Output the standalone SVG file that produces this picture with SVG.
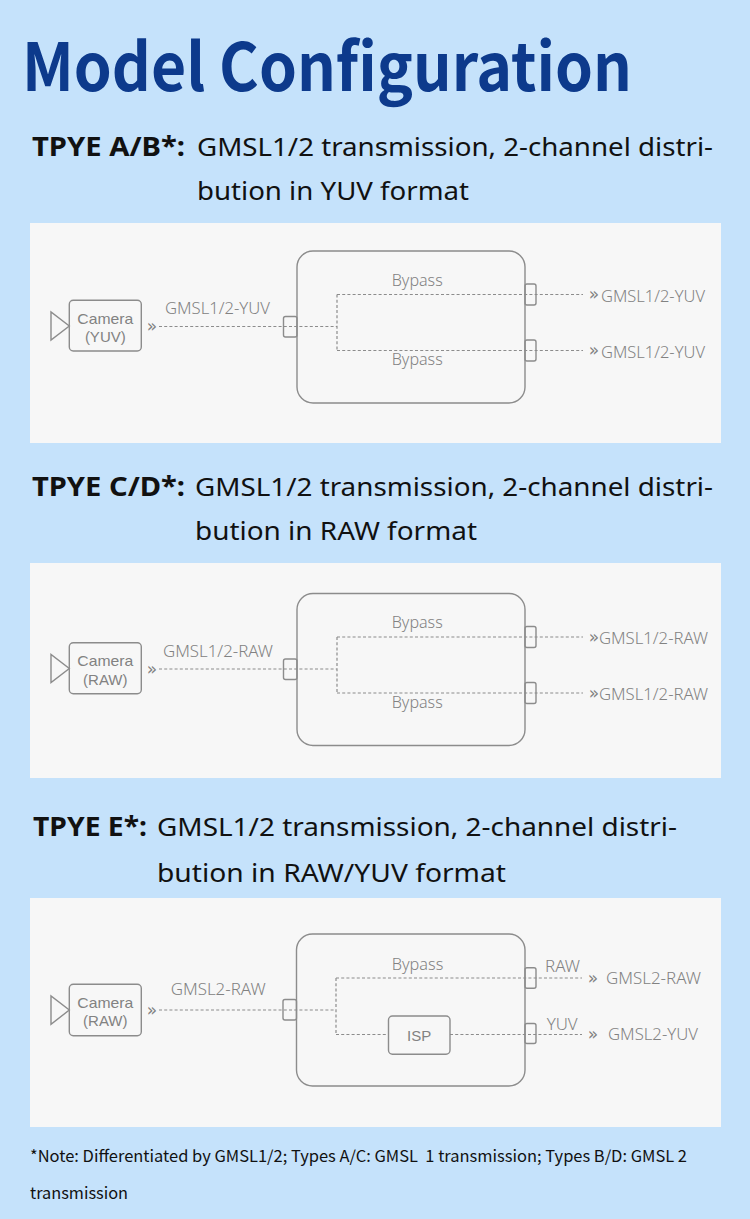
<svg xmlns="http://www.w3.org/2000/svg" width="750" height="1219" viewBox="0 0 750 1219">
<style>
.title{font-family:"Noto Sans CJK SC","Noto Sans",sans-serif;font-weight:700;font-size:66px;fill:#0d3a8c}
.hb{font-family:"Noto Sans","Liberation Sans",sans-serif;font-weight:700;font-size:27px;fill:#111}
.hr{font-family:"Noto Sans","Liberation Sans",sans-serif;font-weight:400;font-size:26px;fill:#111}
.note{font-family:"Noto Sans CJK SC","Noto Sans",sans-serif;font-size:16px;fill:#111;white-space:pre}
.panel{fill:#f7f7f7}
.box{fill:none;stroke:#8c8c8c;stroke-width:1.4}
.lbl{font-family:"Noto Sans","Liberation Sans",sans-serif;font-weight:300;font-size:15.5px;fill:#828282}
.cam{font-family:"Liberation Sans",Arial,sans-serif;font-size:15px;fill:#828282;text-anchor:middle}
.dot{fill:none;stroke:#8c8c8c;stroke-width:1.2;stroke-dasharray:3 2.2}
.chev{font-family:"DejaVu Sans",sans-serif;font-size:17px;fill:#828282;text-anchor:middle}
</style>
<rect x="0" y="0" width="750" height="1219" fill="#c5e2fb"/>
<text class="title" x="22" y="91" textLength="610" lengthAdjust="spacingAndGlyphs">Model Configuration</text>

<text class="hb" x="32" y="155.5" textLength="153" lengthAdjust="spacingAndGlyphs">TPYE A/B*:</text>
<text class="hr" x="197" y="155.5" textLength="516" lengthAdjust="spacingAndGlyphs">GMSL1/2 transmission, 2-channel distri-</text>
<text class="hr" x="197" y="199.5" textLength="272" lengthAdjust="spacingAndGlyphs">bution in YUV format</text>

<text class="hb" x="32" y="495.5" textLength="153" lengthAdjust="spacingAndGlyphs">TPYE C/D*:</text>
<text class="hr" x="195" y="495.5" textLength="518" lengthAdjust="spacingAndGlyphs">GMSL1/2 transmission, 2-channel distri-</text>
<text class="hr" x="195" y="539.5" textLength="282" lengthAdjust="spacingAndGlyphs">bution in RAW format</text>

<text class="hb" x="33" y="836" textLength="114" lengthAdjust="spacingAndGlyphs">TPYE E*:</text>
<text class="hr" x="157" y="836" textLength="520" lengthAdjust="spacingAndGlyphs">GMSL1/2 transmission, 2-channel distri-</text>
<text class="hr" x="157" y="881.5" textLength="349" lengthAdjust="spacingAndGlyphs">bution in RAW/YUV format</text>

<!-- Panel 1 -->
<rect class="panel" x="30" y="223" width="691" height="220"/>
<g id="p1-camera">
<polygon class="box" points="51,312 51,340 69.3,326"/>
<rect class="box" x="69.3" y="300.3" width="72" height="50.7" rx="4"/>
<text class="cam" x="105.3" y="323.5" textLength="56" lengthAdjust="spacingAndGlyphs">Camera</text>
<text class="cam" x="105.3" y="342">(YUV)</text>
</g>
<g id="p1-device">
<rect class="box" x="297" y="251" width="228" height="152" rx="16"/>
<rect class="box" x="283.5" y="316.5" width="13.5" height="20.5" rx="2"/>
<rect class="box" x="525" y="284" width="11" height="21" rx="2"/>
<rect class="box" x="525" y="340" width="11" height="21" rx="2"/>
</g>
<g id="p1-connectors">
<path class="dot" d="M159,326.5 H337 M337,294.5 V350.5 M337,294.5 H583 M337,350.5 H583"/>
<text class="chev" x="152" y="332">»</text>
<text class="chev" x="594" y="300">»</text>
<text class="chev" x="594" y="356">»</text>
<text class="lbl" x="165" y="314" textLength="105" lengthAdjust="spacingAndGlyphs">GMSL1/2-YUV</text>
<text class="lbl" x="391.7" y="285.5" textLength="51" lengthAdjust="spacingAndGlyphs">Bypass</text>
<text class="lbl" x="391.7" y="365" textLength="51" lengthAdjust="spacingAndGlyphs">Bypass</text>
<text class="lbl" x="601" y="301.5" textLength="104" lengthAdjust="spacingAndGlyphs">GMSL1/2-YUV</text>
<text class="lbl" x="601" y="357.5" textLength="104" lengthAdjust="spacingAndGlyphs">GMSL1/2-YUV</text>
</g>

<!-- Panel 2 -->
<rect class="panel" x="30" y="563" width="691" height="215"/>
<g id="p2-camera">
<polygon class="box" points="51,654.5 51,682.5 69.3,668.5"/>
<rect class="box" x="69.3" y="642.8" width="72" height="51" rx="4"/>
<text class="cam" x="105.3" y="666" textLength="56" lengthAdjust="spacingAndGlyphs">Camera</text>
<text class="cam" x="105.3" y="684.5">(RAW)</text>
</g>
<g id="p2-device">
<rect class="box" x="297" y="593.5" width="228" height="152" rx="16"/>
<rect class="box" x="283.5" y="659" width="13.5" height="20.5" rx="2"/>
<rect class="box" x="525" y="626.5" width="11" height="21" rx="2"/>
<rect class="box" x="525" y="682.5" width="11" height="21" rx="2"/>
</g>
<g id="p2-connectors">
<path class="dot" d="M159,669 H337 M337,637 V693 M337,637 H583 M337,693 H583"/>
<text class="chev" x="152" y="674.5">»</text>
<text class="chev" x="594" y="642.5">»</text>
<text class="chev" x="594" y="698.5">»</text>
<text class="lbl" x="163" y="656.7" textLength="110" lengthAdjust="spacingAndGlyphs">GMSL1/2-RAW</text>
<text class="lbl" x="391.7" y="628" textLength="51" lengthAdjust="spacingAndGlyphs">Bypass</text>
<text class="lbl" x="391.7" y="707.5" textLength="51" lengthAdjust="spacingAndGlyphs">Bypass</text>
<text class="lbl" x="599" y="643.5" textLength="109" lengthAdjust="spacingAndGlyphs">GMSL1/2-RAW</text>
<text class="lbl" x="599" y="699.5" textLength="109" lengthAdjust="spacingAndGlyphs">GMSL1/2-RAW</text>
</g>

<!-- Panel 3 -->
<rect class="panel" x="30" y="898" width="691" height="229"/>
<g id="p3-camera">
<polygon class="box" points="51,996 51,1024.3 69.3,1010"/>
<rect class="box" x="69.3" y="984.3" width="72" height="51.4" rx="4"/>
<text class="cam" x="105.3" y="1007.5" textLength="56" lengthAdjust="spacingAndGlyphs">Camera</text>
<text class="cam" x="105.3" y="1026">(RAW)</text>
</g>
<g id="p3-device">
<rect class="box" x="296.5" y="934" width="228.5" height="152" rx="16"/>
<rect class="box" x="283" y="999.5" width="13.5" height="20.5" rx="2"/>
<rect class="box" x="525" y="967.8" width="11" height="20.5" rx="2"/>
<rect class="box" x="525" y="1023.5" width="11" height="20" rx="2"/>
</g>
<g id="p3-isp">
<rect class="box" x="388.5" y="1016" width="61.5" height="38.3" rx="4"/>
<text class="cam" x="419.2" y="1040.5">ISP</text>
</g>
<g id="p3-connectors">
<path class="dot" d="M159,1010 H336 M336,978 V1034.5 M336,978 H582 M336,1034.5 H388.5 M450,1034.5 H582"/>
<text class="chev" x="152" y="1015.5">»</text>
<text class="chev" x="593" y="983.5">»</text>
<text class="chev" x="593" y="1040">»</text>
<text class="lbl" x="170.7" y="995" textLength="95" lengthAdjust="spacingAndGlyphs">GMSL2-RAW</text>
<text class="lbl" x="391.7" y="970" textLength="51.6" lengthAdjust="spacingAndGlyphs">Bypass</text>
<text class="lbl" x="545" y="971.5" textLength="35" lengthAdjust="spacingAndGlyphs">RAW</text>
<text class="lbl" x="546.7" y="1030" textLength="31" lengthAdjust="spacingAndGlyphs">YUV</text>
<text class="lbl" x="606" y="984" textLength="95" lengthAdjust="spacingAndGlyphs">GMSL2-RAW</text>
<text class="lbl" x="608" y="1040" textLength="90" lengthAdjust="spacingAndGlyphs">GMSL2-YUV</text>
</g>

<text class="note" x="30" y="1162" textLength="657" lengthAdjust="spacingAndGlyphs" xml:space="preserve">*Note: Differentiated by GMSL1/2; Types A/C: GMSL  1 transmission; Types B/D: GMSL 2</text>
<text class="note" x="30" y="1199" textLength="98" lengthAdjust="spacingAndGlyphs">transmission</text>
</svg>
